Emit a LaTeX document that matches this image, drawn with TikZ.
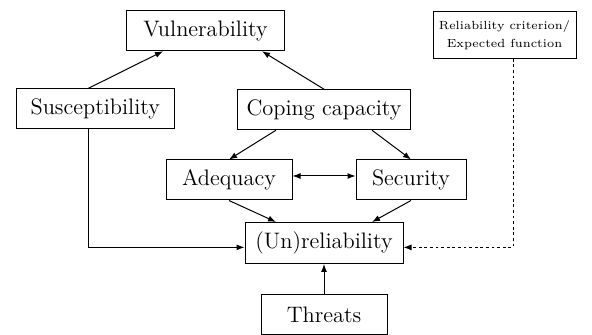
\documentclass[tikz,border=0pt]{standalone}
\usetikzlibrary{positioning}
\usetikzlibrary{arrows.meta}
\tikzset{>={Latex[length=4pt,width=3pt]}}
\tikzset{blk/.style={draw,line width=0.5pt,inner sep=0pt,minimum height=20pt,font=\fontsize{11.2}{13.4}\selectfont}}
\tikzset{crit/.style={draw,line width=0.5pt,inner sep=0pt,align=center,font=\fontsize{5.9}{9.2}\selectfont}}
\tikzset{con/.style={line width=0.5pt}}

\begin{document}
\begin{tikzpicture}[x=0.5pt,y=-0.5pt]
        \useasboundingbox (0,0) rectangle (592,335);

        \node[blk,minimum width=79pt] (vul) at (205.5,30.75) {Vulnerability};
        \node[blk,minimum width=78.75pt] (sus) at (95.25,109) {Susceptibility};
        \node[blk,minimum width=86.7pt] (cop) at (324,109.7) {Coping capacity};
        \node[crit,minimum width=71.5pt,minimum height=23.3pt] (rc) at (504.5,35) {Reliability criterion/\\Expected function};

        \node[blk,minimum width=63pt] (ade) at (229,180) {Adequacy};
        \node[blk,minimum width=55pt] (sec) at (411,180) {Security};
        \node[blk,minimum width=79pt,minimum height=20.5pt] (unr) at (324,243) {(Un)reliability};
        \node[blk,minimum width=63pt] (thr) at (324,314.5) {Threats};

        \draw[con,->] ([xshift=-3.6pt]sus.north) -- ([xshift=-21.25pt]vul.south);
        \draw[con,->] (cop.north) -- ([xshift=28.25pt]vul.south);

        \draw[con,->] ([xshift=-24pt]cop.south) -- (ade.north);
        \draw[con,->] ([xshift=24pt]cop.south) -- (sec.north);
        \draw[con,<->] ([yshift=2pt]ade.east) -- ([yshift=2pt]sec.west);

        \draw[con,->] (ade.south) -- ([xshift=-24pt]unr.north);
        \draw[con,->] (sec.south) -- ([xshift=24pt]unr.north);
        \draw[con,->] ([xshift=-3.6pt]sus.south) |- ([yshift=-2.2pt]unr.west);
        \draw[con,->] (thr) -- (unr);
        \draw[con,->,dash pattern=on 1.4pt off 1.4pt] ([xshift=4.25pt]rc.south) |- ([yshift=-2.2pt]unr.east);
\end{tikzpicture}
\end{document}
